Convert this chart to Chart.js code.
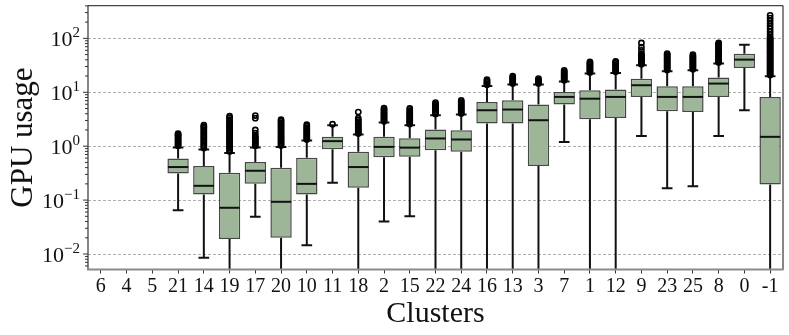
<!DOCTYPE html>
<html>
<head>
<meta charset="utf-8">
<script src="https://cdn.jsdelivr.net/npm/chart.js@4.4.1/dist/chart.umd.min.js"></script>
<style>
  html, body { margin: 0; padding: 0; background: #fff; }
  #wrap { width: 789px; height: 335px; }
</style>
</head>
<body>
<div id="wrap"><canvas id="gpuChart" width="789" height="335"></canvas></div>
<script>
const clusters = ['6', '4', '5', '21', '14', '19', '17', '20', '10', '11', '18', '2', '15', '22', '24', '16', '13', '3', '7', '1', '12', '9', '23', '25', '8', '0', '-1'];

// box plot stats per cluster (null = no data)
const whiskerLow = [null, null, null, 0.065, 0.0085, 0.001, 0.049, 0.001, 0.0145, 0.21, 0.001, 0.04, 0.05, 0.001, 0.001, 0.001, 0.001, 0.001, 1.2, 0.001, 0.001, 1.55, 0.165, 0.18, 1.55, 4.64, 0.001];
const q1 = [null, null, null, 0.31, 0.127, 0.019, 0.20, 0.020, 0.127, 0.88, 0.17, 0.62, 0.64, 0.84, 0.79, 2.63, 2.63, 0.43, 5.9, 3.16, 3.34, 8.2, 4.45, 4.3, 8.2, 28.2, 0.195];
const median = [null, null, null, 0.41, 0.184, 0.072, 0.35, 0.093, 0.20, 1.24, 0.41, 0.97, 0.94, 1.39, 1.33, 4.64, 4.78, 3.03, 8.2, 7.6, 8.2, 13.5, 8.2, 8.2, 14.5, 40.3, 1.49];
const q3 = [null, null, null, 0.59, 0.43, 0.32, 0.51, 0.40, 0.61, 1.49, 0.79, 1.49, 1.4, 2.04, 1.98, 6.6, 7.1, 5.9, 10.1, 10.9, 11.2, 17.9, 12.9, 12.9, 18.7, 52, 8.2];
const whiskerHigh = [null, null, null, 0.95, 0.87, 0.75, 0.95, 0.97, 1.27, 2.45, 1.64, 2.75, 2.45, 3.75, 3.86, 13.1, 13.9, 13.9, 15.9, 22.2, 22.8, 31.6, 24.5, 25.5, 34, 76, 19.8];
const outliers = [
  [], [], [],
  [1.02, 1.08, 1.14, 1.2, 1.27, 1.34, 1.42, 1.5, 1.58, 1.65, 1.7],
  [0.93, 1.0, 1.07, 1.15, 1.23, 1.32, 1.42, 1.52, 1.63, 1.75, 1.88, 2.02, 2.18, 2.3, 2.45],
  [0.8, 0.86, 0.92, 0.98, 1.05, 1.12, 1.2, 1.28, 1.37, 1.46, 1.56, 1.67, 1.78, 1.9, 2.03, 2.17, 2.32, 2.48, 2.65, 2.85, 3.1, 3.35, 3.6],
  [1.02, 1.08, 1.15, 1.22, 1.3, 1.38, 1.47, 1.55, 1.75, 2.0, 3.3, 3.7],
  [1.03, 1.1, 1.17, 1.25, 1.33, 1.42, 1.51, 1.61, 1.72, 1.83, 1.95, 2.08, 2.22, 2.37, 2.53, 2.7, 2.9, 3.1],
  [1.33, 1.4, 1.48, 1.56, 1.65, 1.75, 1.85, 1.96, 2.08, 2.2, 2.35, 2.5],
  [2.55],
  [1.72, 1.8, 1.9, 2.0, 2.1, 2.22, 2.35, 2.5, 2.65, 2.85, 3.05, 3.3, 4.3],
  [2.9, 3.05, 3.2, 3.4, 3.6, 3.8, 4.0, 4.25, 4.5, 4.8, 5.1],
  [2.58, 2.72, 2.87, 3.03, 3.2, 3.4, 3.6, 3.8, 4.05, 4.3, 4.6, 5.0],
  [3.95, 4.15, 4.35, 4.6, 4.85, 5.1, 5.4, 5.7, 6.05, 6.45],
  [4.05, 4.25, 4.5, 4.75, 5.0, 5.3, 5.6, 5.95, 6.3, 6.7, 7.1],
  [13.8, 14.5, 15.3, 16.2, 17.2],
  [14.6, 15.4, 16.2, 17.1, 18.0, 19.0, 20.0],
  [14.6, 15.4, 16.2, 17.0, 17.9],
  [16.7, 17.6, 18.5, 19.5, 20.5, 21.6, 22.8, 24.1, 25.5],
  [23.3, 24.5, 25.8, 27.1, 28.5, 30, 31.6, 33.2, 35, 36.5],
  [24, 25.2, 26.5, 27.9, 29.4, 31, 32.6, 34.3, 36, 37.5],
  [33.2, 35, 36.8, 38.7, 40.7, 42.8, 45, 47.4, 49.8, 52, 60, 69, 82],
  [25.8, 27.1, 28.5, 30, 31.6, 33.2, 35, 36.8, 38.7, 40.7, 42.8, 45, 47.4, 49.8, 52],
  [26.8, 28.2, 29.7, 31.2, 32.8, 34.5, 36.3, 38.2, 40.2, 42.3, 44.5, 46.8, 50],
  [35.7, 37.5, 39.4, 41.4, 43.5, 45.7, 48, 50.4, 53, 55.7, 58.5, 61.5, 64.6, 67.9, 71.4, 75, 78.8, 82],
  [],
  [20.8, 21.9, 23, 24.2, 25.5, 26.8, 28.2, 29.7, 31.2, 32.8, 34.5, 36.3, 38.2, 40.2, 42.3, 44.5, 46.8, 49.2, 51.8, 54.5, 57.3, 60.3, 63.4, 66.7, 70.2, 73.8, 77.6, 81.6, 85.9, 90.3, 95, 100, 105, 118, 133, 150, 168, 188, 212, 238, 267]
];

const yTickValues = [0.01, 0.1, 1, 10, 100];
const yTickExponents = ['\u22122', '\u22121', '0', '1', '2'];

const SERIF = "'Liberation Serif', 'DejaVu Serif', serif";
const BOX_FILL = '#9db698';
const BOX_EDGE = '#474747';

function strokeLine(ctx, x1, y1, x2, y2) {
    ctx.beginPath();
    ctx.moveTo(x1, y1);
    ctx.lineTo(x2, y2);
    ctx.stroke();
}

const boxPlotPlugin = {
    id: 'boxPlot',
    beforeDatasetsDraw(chart) {
        const { ctx, chartArea: a, scales: { x, y } } = chart;
        const meta = chart.getDatasetMeta(0);
        ctx.save();
        ctx.beginPath();
        ctx.rect(a.left, a.top, a.right - a.left, a.bottom - a.top);
        ctx.clip();
        ctx.strokeStyle = '#111';
        ctx.lineWidth = 2;
        clusters.forEach((c, i) => {
            if (q1[i] == null) return;
            const cx = x.getPixelForValue(i);
            const capHalf = meta.data[i].width / 4;
            const yLo = y.getPixelForValue(whiskerLow[i]);
            const yHi = y.getPixelForValue(whiskerHigh[i]);
            strokeLine(ctx, cx, y.getPixelForValue(q1[i]), cx, yLo);
            strokeLine(ctx, cx, y.getPixelForValue(q3[i]), cx, yHi);
            strokeLine(ctx, cx - capHalf, yLo, cx + capHalf, yLo);
            strokeLine(ctx, cx - capHalf, yHi, cx + capHalf, yHi);
        });
        ctx.restore();
    },
    afterDatasetDraw(chart, args) {
        if (args.index !== 0) return;
        const { ctx, scales: { x, y } } = chart;
        const meta = chart.getDatasetMeta(0);
        ctx.save();
        ctx.strokeStyle = '#111';
        ctx.lineWidth = 2;
        clusters.forEach((c, i) => {
            if (median[i] == null) return;
            const cx = x.getPixelForValue(i);
            const half = meta.data[i].width / 2 - 0.5;
            const my = y.getPixelForValue(median[i]);
            strokeLine(ctx, cx - half, my, cx + half, my);
        });
        ctx.restore();
    },
    afterDraw(chart) {
        const { ctx, chartArea: a, scales: { y } } = chart;
        ctx.save();
        // spines
        ctx.strokeStyle = '#444';
        ctx.lineWidth = 1.3;
        strokeLine(ctx, a.left, a.top, a.right, a.top);
        strokeLine(ctx, a.right, a.top, a.right, a.bottom);
        strokeLine(ctx, a.left, a.top, a.left, a.bottom);
        ctx.strokeStyle = '#8a8a8a';
        ctx.lineWidth = 2;
        strokeLine(ctx, a.left - 1, a.bottom, a.right + 0.6, a.bottom);

        // y ticks: major + minor
        ctx.strokeStyle = '#333';
        ctx.lineWidth = 1;
        for (let e = -3; e <= 2; e++) {
            for (let m = 1; m <= 9; m++) {
                const v = m * Math.pow(10, e);
                const py = y.getPixelForValue(v);
                if (py < a.top - 0.5 || py > a.bottom + 0.5) continue;
                const len = m === 1 ? 5 : 3;
                strokeLine(ctx, a.left - len, py, a.left, py);
            }
        }

        // y tick labels as 10^n
        ctx.fillStyle = '#111';
        ctx.textBaseline = 'alphabetic';
        const right = a.left - 8;
        yTickValues.forEach((v, i) => {
            const py = y.getPixelForValue(v);
            ctx.font = '15px ' + SERIF;
            const expW = ctx.measureText(yTickExponents[i]).width;
            ctx.textAlign = 'right';
            ctx.fillText(yTickExponents[i], right, py - 1);
            ctx.font = '22px ' + SERIF;
            ctx.fillText('10', right - expW, py + 7.5);
        });
        ctx.restore();
    }
};

const outlierPoints = [];
clusters.forEach((c, i) => {
    outliers[i].forEach(v => outlierPoints.push({ x: c, y: v }));
});

new Chart(document.getElementById('gpuChart'), {
    type: 'bar',
    data: {
        labels: clusters,
        datasets: [{
            label: 'IQR',
            data: clusters.map((c, i) => q1[i] == null ? null : [q1[i], q3[i]]),
            backgroundColor: BOX_FILL,
            borderColor: BOX_EDGE,
            borderWidth: 1.5,
            borderSkipped: false,
            barPercentage: 0.83,
            categoryPercentage: 1.0,
            order: 1
        }, {
            type: 'scatter',
            label: 'Outliers',
            data: outlierPoints,
            pointStyle: 'circle',
            pointRadius: 2.6,
            pointBorderWidth: 1.6,
            pointBorderColor: '#000',
            pointBackgroundColor: 'rgba(0,0,0,0)',
            order: 0
        }]
    },
    options: {
        responsive: false,
        animation: false,
        layout: { padding: { left: 0, right: 6, top: 5, bottom: 0 } },
        scales: {
            x: {
                type: 'category',
                labels: clusters,
                offset: true,
                grid: {
                    display: true,
                    drawOnChartArea: false,
                    offset: false,
                    drawTicks: true,
                    tickLength: 4,
                    tickColor: '#333',
                    tickWidth: 1
                },
                border: { display: false },
                ticks: {
                    autoSkip: false,
                    maxRotation: 0,
                    minRotation: 0,
                    padding: 1,
                    color: '#111',
                    font: { family: SERIF, size: 20 }
                },
                title: {
                    display: true,
                    text: 'Clusters',
                    color: '#111',
                    font: { family: SERIF, size: 30, lineHeight: 1 },
                    padding: { top: 0, bottom: 6 }
                },
                afterFit(scale) { scale.height = 65.5; }
            },
            y: {
                type: 'logarithmic',
                min: 0.00516,
                max: 405,
                afterBuildTicks(scale) {
                    scale.ticks = yTickValues.map(v => ({ value: v }));
                },
                grid: {
                    color: '#9a9a9a',
                    lineWidth: 0.8,
                    drawTicks: false
                },
                border: { display: false, dash: [3, 2] },
                ticks: { display: false },
                title: {
                    display: true,
                    text: 'GPU usage',
                    color: '#111',
                    font: { family: SERIF, size: 31, lineHeight: 1 },
                    padding: { top: 8, bottom: 0 }
                },
                afterFit(scale) { scale.width = 88; }
            }
        },
        plugins: {
            legend: { display: false },
            tooltip: { enabled: false }
        }
    },
    plugins: [boxPlotPlugin]
});
</script>
</body>
</html>
